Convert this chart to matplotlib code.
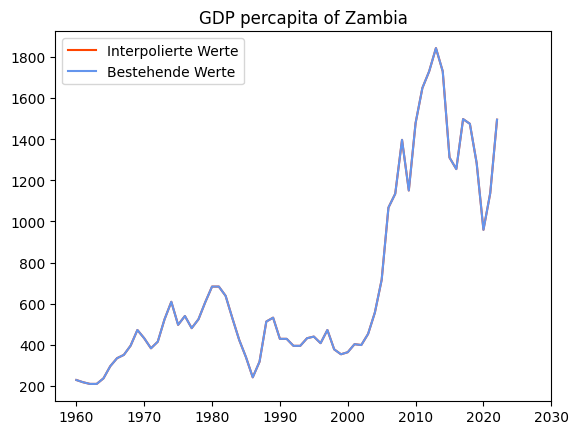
import matplotlib
matplotlib.use("Agg")
import matplotlib.pyplot as plt

# GDP per capita of Zambia (US$)
years = list(range(1960, 2023))
gdp = [229, 218, 210, 210, 237, 296, 335, 351, 396, 472,
       432, 383, 415, 524, 609, 497, 540, 481, 524, 607,
       683, 683, 638, 529, 424, 340, 242, 318, 513, 532,
       429, 429, 395, 395, 432, 440, 408, 472, 378, 354,
       364, 403, 399, 453, 557, 716, 1067, 1134, 1396, 1150,
       1478, 1648, 1729, 1842, 1729, 1310, 1254, 1497, 1474, 1283,
       959, 1137, 1494]

# interpolated series covers the same years (no gaps in the data)
interp_years = years
interp_gdp = gdp

fig = plt.figure(figsize=(5.78, 4.35), dpi=100)
ax = fig.add_axes([55.3 / 578, 33.3 / 435, 496 / 578, 369.4 / 435])

ax.plot(interp_years, interp_gdp, color="orangered", label="Interpolierte Werte")
ax.plot(years, gdp, color="cornflowerblue", label="Bestehende Werte")

ax.set_xlim(right=2030)
ax.set_title("GDP percapita of Zambia")
ax.legend(loc="upper left")

fig.savefig("out.png", dpi=100)
